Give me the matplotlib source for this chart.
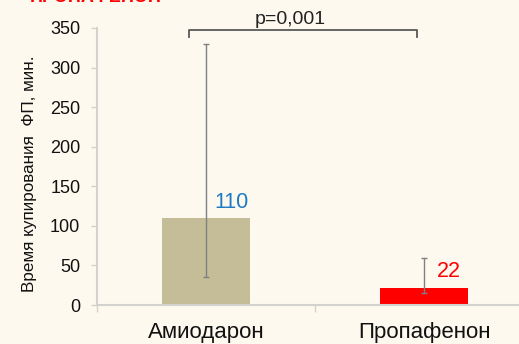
import matplotlib.pyplot as plt
import numpy as np

# data
categories = ["Амиодарон", "Пропафенон"]
values = [110, 22]
err_low = [35, 15]
err_high = [330, 60]
value_labels = ["110", "22"]
bar_colors = ["#c4bd97", "#ff0000"]
label_colors = ["#1f7ac4", "#ff0000"]
p_text = "p=0,001"
y_ticks = [0, 50, 100, 150, 200, 250, 300, 350]

plt.rcParams["font.family"] = ["Liberation Sans", "DejaVu Sans"]
bg = "#fdf9ee"
spine_c = "#d4d2cc"

fig = plt.figure(figsize=(5.19, 3.44), dpi=100, facecolor=bg)
ax = fig.add_axes([97 / 519, 39 / 344, 436 / 519, 277 / 344], facecolor=bg)

x = np.arange(len(categories))
vals = np.array(values)
yerr = np.array([vals - np.array(err_low), np.array(err_high) - vals])
ax.bar(x, vals, width=0.4, color=bar_colors, zorder=2)
ax.errorbar(x, vals, yerr=yerr, fmt="none", ecolor="#808080", elinewidth=1,
            capsize=2, capthick=1, zorder=3)

# value labels
offsets = [(0.04, 12), (0.06, 13)]
for i, (lab, col) in enumerate(zip(value_labels, label_colors)):
    ax.text(x[i] + offsets[i][0], vals[i] + offsets[i][1], lab, color=col,
            fontsize=15.5, ha="left", va="baseline")

# significance bracket
bx0, bx1 = x[0] - 0.08, x[1] - 0.03
by, bh = 347, 9
ax.plot([bx0, bx0, bx1, bx1], [by - bh, by, by, by - bh], color="#595959",
        lw=1.3, clip_on=False, zorder=4)
ax.text((bx0 + bx1) / 2 - 0.06, by + 8, p_text, ha="center", va="baseline",
        fontsize=14, color="#222222", clip_on=False)

ax.set_xlim(-0.5, 1.5)
ax.set_ylim(0, 350)
ax.set_yticks(y_ticks)
ax.tick_params(axis="y", labelsize=13, length=4, width=1, color=spine_c, pad=8,
               labelcolor="#111111")
ax.set_xticks(x)
ax.set_xticklabels(categories)
ax.tick_params(axis="x", which="major", length=0, labelsize=16, pad=12,
               labelcolor="#111111")
ax.set_xticks([-0.5, 0.5, 1.5], minor=True)
ax.tick_params(axis="x", which="minor", length=5, width=1, color=spine_c)

for s in ["top", "right"]:
    ax.spines[s].set_visible(False)
for s in ["left", "bottom"]:
    ax.spines[s].set_color(spine_c)
    ax.spines[s].set_linewidth(1.5)

ax.set_ylabel("Время купирования  ФП, мин.", fontsize=12.3, color="#111111")
ax.yaxis.set_label_coords(-0.138, 0.473)

# cut off title at the very top of the slide
fig.text(30 / 519, 1 - 2 / 344, "ПРОПАФЕНОН", color="#ff0000", fontsize=13,
         fontweight="bold", ha="left", va="baseline")

fig.savefig("out.png", dpi=100, facecolor=bg)
